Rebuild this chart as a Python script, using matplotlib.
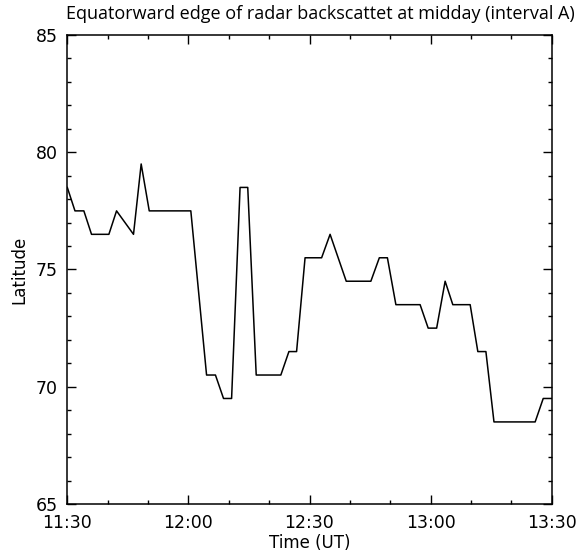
import matplotlib
matplotlib.use("Agg")
import matplotlib.pyplot as plt
from matplotlib.ticker import MultipleLocator, FixedLocator

# Time in minutes after 11:30 UT
minutes = [0.0, 1.9, 4.1, 6.0, 10.3, 12.2, 16.4, 18.3, 20.3, 30.6,
           34.5, 36.7, 38.7, 40.7, 42.8, 44.7, 46.8, 52.9, 54.9, 56.8,
           58.9, 63.0, 65.1, 69.1, 75.2, 77.3, 79.3, 81.4, 87.4, 89.4,
           91.5, 93.6, 95.5, 99.8, 101.7, 103.7, 105.7, 115.9, 117.9, 120.0]
latitude = [78.5, 77.5, 77.5, 76.5, 76.5, 77.5, 76.5, 79.5, 77.5, 77.5,
            70.5, 70.5, 69.5, 69.5, 78.5, 78.5, 70.5, 70.5, 71.5, 71.5,
            75.5, 75.5, 76.5, 74.5, 74.5, 75.5, 75.5, 73.5, 73.5, 72.5,
            72.5, 74.5, 73.5, 73.5, 71.5, 71.5, 68.5, 68.5, 69.5, 69.5]
xtick_pos = [0, 30, 60, 90, 120]
xtick_labels = ["11:30", "12:00", "12:30", "13:00", "13:30"]
ytick_pos = [65, 70, 75, 80, 85]

fig = plt.figure(figsize=(5.85, 5.55), dpi=100)
ax = fig.add_axes([67.3/585, 1-504/555, (551.7-67.3)/585, (504-35)/555])
ax.plot(minutes, latitude, color="black", lw=1.1)
ax.set_xlim(0, 120)
ax.set_ylim(65, 85)
ax.xaxis.set_major_locator(FixedLocator(xtick_pos))
ax.set_xticklabels(xtick_labels)
ax.xaxis.set_minor_locator(MultipleLocator(10))
ax.yaxis.set_major_locator(FixedLocator(ytick_pos))
ax.yaxis.set_minor_locator(MultipleLocator(1))
ax.tick_params(which="both", direction="in", top=True, right=True, width=1.0,
               labelsize=12.5, colors="black")
ax.tick_params(which="major", length=6.5, pad=7)
ax.tick_params(which="minor", length=3)
for s in ax.spines.values():
    s.set_linewidth(1.1)
ax.set_xlabel("Time (UT)", fontsize=12, labelpad=2)
ax.set_ylabel("Latitude", fontsize=12, labelpad=5)
fig.text(320/585, 1-14/555, "Equatorward edge of radar backscattet at midday (interval A)",
         ha="center", va="center", fontsize=13.0, family=["Open Sans", "DejaVu Sans"])
fig.savefig("out.png", dpi=100)
